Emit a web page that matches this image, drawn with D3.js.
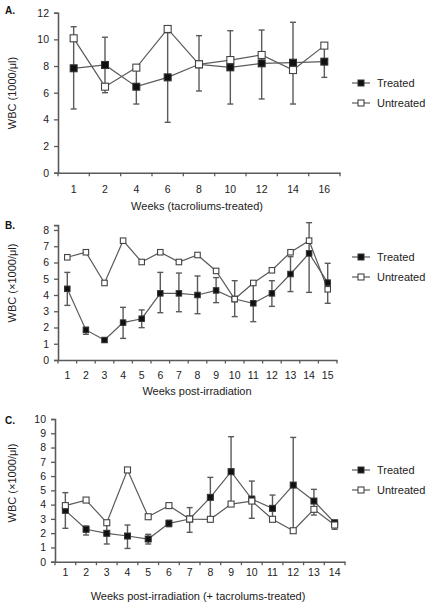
<!DOCTYPE html>
<html><head><meta charset="utf-8">
<script src="https://cdn.jsdelivr.net/npm/d3@7"></script>
<style>
html,body{margin:0;padding:0;background:#fff;}
svg{display:block;font-family:"Liberation Sans",Arial,sans-serif;}
</style></head>
<body><svg id="c" width="430" height="607"></svg>
<script>
// Panel A
const aWeeks = ["1","2","4","6","8","10","12","14","16"];
const aTreated   = [7.83, 8.08, 6.45, 7.15, 8.13, 7.90, 8.20, 8.25, 8.33];
const aUntreated = [10.08, 6.45, 7.88, 10.78, 8.13, 8.45, 8.83, 7.70, 9.53];
const aErrLow  = [4.78, 6.00, 5.15, 3.78, 6.13, 5.15, 5.53, 5.15, 7.15];
const aErrHigh = [10.95, 10.16, 7.75, 10.50, 10.28, 10.65, 10.70, 11.28, 9.50];
const aYTicks = [0,2,4,6,8,10,12];

// Panel B
const bWeeks = ["1","2","3","4","5","6","7","8","9","10","11","12","13","14","15"];
const bTreated   = [4.38, 1.85, 1.23, 2.30, 2.54, 4.10, 4.10, 4.00, 4.28, 3.75, 3.49, 4.10, 5.29, 6.56, 4.76];
const bUntreated = [6.32, 6.63, 4.74, 7.34, 6.03, 6.63, 6.03, 6.46, 5.48, 3.75, 4.74, 5.52, 6.63, 7.34, 4.35];
const bErrLow  = [3.36, 1.58, 1.10, 1.33, 1.99, 2.91, 2.97, 2.85, 3.53, 2.67, 2.36, 3.30, 4.21, 4.16, 3.49];
const bErrHigh = [5.39, 2.01, 1.30, 3.24, 3.08, 5.39, 5.35, 5.17, 5.07, 4.88, 4.76, 4.88, 6.36, 8.45, 5.95];
const bYTicks = [0,1,2,3,4,5,6,7,8];

// Panel C
const cWeeks = ["1","2","3","4","5","6","7","8","9","10","11","12","13","14"];
const cTreated   = [3.60, 2.27, 1.99, 1.80, 1.59, 2.69, 2.99, 4.51, 6.31, 4.39, 3.74, 5.37, 4.25, 2.73];
const cUntreated = [3.93, 4.32, 2.73, 6.43, 3.15, 3.93, 2.99, 2.97, 4.04, 4.25, 2.97, 2.17, 3.67, 2.57];
const cErrLow  = [2.34, 1.87, 1.24, 0.93, 1.24, 2.45, 2.06, 2.97, 4.04, 3.04, 2.92, 2.17, 3.27, 2.27];
const cErrHigh = [4.84, 2.50, 2.73, 2.57, 1.92, 2.90, 3.79, 5.91, 8.76, 5.65, 4.67, 8.71, 5.07, 2.87];
const cYTicks = [0,1,2,3,4,5,6,7,8,9,10];

const svg = d3.select("#c");
const gray = "#5a5a5a";

function panel(o){
  const x = d3.scaleBand().domain(o.weeks).range([o.x0, o.x1]);
  const y = d3.scaleLinear().domain([0, o.yMax]).range([o.y0, o.yTop]);
  const g = svg.append("g");
  const cx = w => x(w) + x.bandwidth()/2;

  // axes
  const xAxis = d3.axisBottom(x).tickSize(0).tickPadding(0);
  const xg = g.append("g").attr("transform",`translate(0,${o.y0})`).call(xAxis);
  xg.select(".domain").attr("stroke",gray).attr("stroke-width",1.6);
  xg.selectAll(".tick text").attr("font-size",10.5).attr("fill","#222")
    .attr("y", o.xLabY - o.y0).attr("dy",0).attr("dominant-baseline","middle");
  // band boundary tick marks
  const bounds = o.weeks.map(w => x(w)).concat([o.x1]);
  g.selectAll(".btick").data(bounds).enter().append("line")
    .attr("x1",d=>d).attr("x2",d=>d).attr("y1",o.y0).attr("y2",o.y0+3.5)
    .attr("stroke",gray).attr("stroke-width",1.3);

  const yAxis = d3.axisLeft(y).tickValues(o.yTicks).tickSize(4).tickPadding(5).tickFormat(d3.format("d"));
  const yg = g.append("g").attr("transform",`translate(${o.x0},0)`).call(yAxis);
  yg.select(".domain").attr("stroke",gray).attr("stroke-width",1.6);
  yg.selectAll(".tick line").attr("stroke",gray).attr("stroke-width",1.3);
  yg.selectAll(".tick text").attr("font-size",10.5).attr("fill","#222");

  // error bars
  const cap = 3;
  o.weeks.forEach((w,i)=>{
    const xc = cx(w);
    g.append("line").attr("x1",xc).attr("x2",xc).attr("y1",y(o.lo[i])).attr("y2",y(o.hi[i]))
      .attr("stroke",gray).attr("stroke-width",1.4);
    [o.lo[i],o.hi[i]].forEach(v=>{
      g.append("line").attr("x1",xc-cap).attr("x2",xc+cap).attr("y1",y(v)).attr("y2",y(v))
        .attr("stroke",gray).attr("stroke-width",1.4);
    });
  });

  const line = d3.line().x((d,i)=>cx(o.weeks[i])).y(d=>y(d));
  g.append("path").datum(o.tr).attr("d",line).attr("fill","none").attr("stroke",gray).attr("stroke-width",1.2);
  g.append("path").datum(o.un).attr("d",line).attr("fill","none").attr("stroke",gray).attr("stroke-width",1.2);

  const s = o.sq;
  g.selectAll(".tr").data(o.tr).enter().append("rect")
    .attr("x",(d,i)=>cx(o.weeks[i])-s/2).attr("y",d=>y(d)-s/2).attr("width",s).attr("height",s)
    .attr("fill","#111").attr("stroke","#333").attr("stroke-width",1);
  g.selectAll(".un").data(o.un).enter().append("rect")
    .attr("x",(d,i)=>cx(o.weeks[i])-s/2).attr("y",d=>y(d)-s/2).attr("width",s).attr("height",s)
    .attr("fill","#fff").attr("stroke","#444").attr("stroke-width",1.1);

  // titles
  g.append("text").attr("x",5).attr("y",o.labY).attr("font-size",10).attr("font-weight","bold")
    .attr("fill","#111").text(o.label);
  g.append("text").attr("transform",`translate(12,${o.yTitleY}) rotate(-90)`)
    .attr("text-anchor","middle").attr("dominant-baseline","central")
    .attr("font-size",11).attr("fill","#222").text(o.yTitle);
  g.append("text").attr("x",o.xTitleX).attr("y",o.xTitleY).attr("text-anchor","middle")
    .attr("dominant-baseline","middle").attr("font-size",11).attr("fill","#222").text(o.xTitle);

  // legend
  [["Treated","#111",o.legY],["Untreated","#fff",o.legY+20]].forEach(([t,f,ly])=>{
    g.append("line").attr("x1",352).attr("x2",370).attr("y1",ly).attr("y2",ly).attr("stroke",gray).attr("stroke-width",1.2);
    g.append("rect").attr("x",361-3).attr("y",ly-3).attr("width",6).attr("height",6)
      .attr("fill",f).attr("stroke","#333").attr("stroke-width",1);
    g.append("text").attr("x",377).attr("y",ly).attr("dominant-baseline","central")
      .attr("font-size",11).attr("fill","#222").text(t);
  });
}

panel({weeks:aWeeks, tr:aTreated, un:aUntreated, lo:aErrLow, hi:aErrHigh, yTicks:aYTicks,
  x0:58, x1:340, y0:172.7, yTop:12.7, yMax:12, sq:7, xLabY:190,
  label:"A.", labY:14, yTitle:"WBC (1000/\u03bcl)", yTitleY:93,
  xTitle:"Weeks (tacroliums-treated)", xTitleX:197, xTitleY:207, legY:83});

panel({weeks:bWeeks, tr:bTreated, un:bUntreated, lo:bErrLow, hi:bErrHigh, yTicks:bYTicks,
  x0:58, x1:337, y0:360, yTop:225.1, yMax:8.3, sq:5.5, xLabY:376,
  label:"B.", labY:229, yTitle:"WBC (\u00d71000/\u03bcl)", yTitleY:283,
  xTitle:"Weeks post-irradiation", xTitleX:197, xTitleY:392, legY:257});

panel({weeks:cWeeks, tr:cTreated, un:cUntreated, lo:cErrLow, hi:cErrHigh, yTicks:cYTicks,
  x0:55, x1:345, y0:561.7, yTop:419, yMax:10, sq:6, xLabY:573,
  label:"C.", labY:424, yTitle:"WBC (\u00d71000/\u03bcl)", yTitleY:483,
  xTitle:"Weeks post-irradiation (+ tacrolums-treated)", xTitleX:198, xTitleY:597, legY:470});
</script></body></html>
